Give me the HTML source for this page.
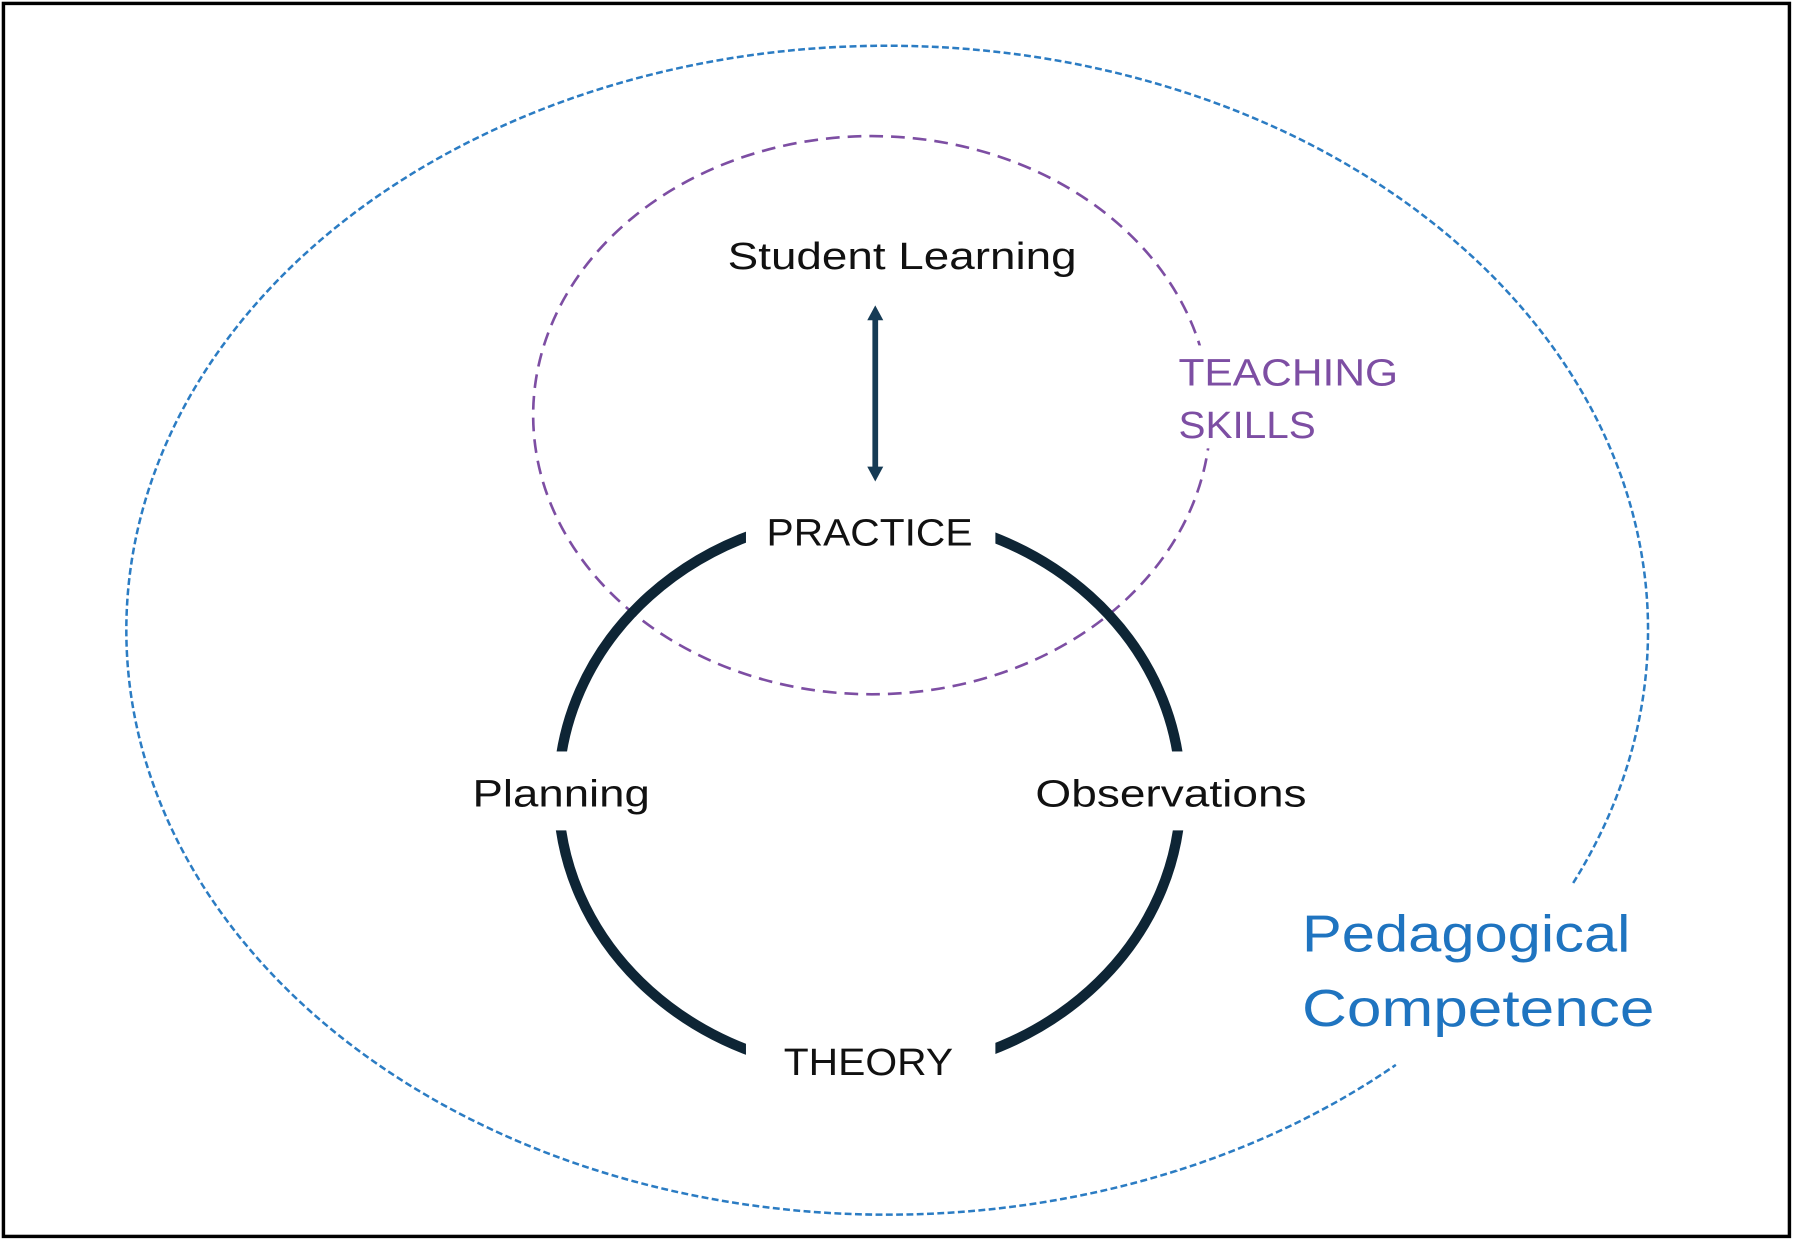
<!DOCTYPE html>
<html><head><meta charset="utf-8"><style>
html,body{margin:0;padding:0;background:#fff;}
svg{display:block;}
text{font-family:"Liberation Sans",sans-serif;}
</style></head><body>
<svg width="1794" height="1241" viewBox="0 0 1568 1085" preserveAspectRatio="none" xmlns="http://www.w3.org/2000/svg">
<rect x="0" y="0" width="1568" height="1085" fill="#fff"/>
<rect x="3" y="3" width="1561" height="1078" fill="none" stroke="#000" stroke-width="3"/>
<path d="M 1375 772 A 665 511 0 1 0 1220 931" fill="none" stroke="#2b7cc3" stroke-width="2.2" stroke-dasharray="6 3"/>
<ellipse cx="762" cy="363" rx="296" ry="244" fill="none" stroke="#7d4ea3" stroke-width="2.3" stroke-dasharray="12 7"/>
<ellipse cx="760" cy="693.5" rx="272" ry="244" fill="none" stroke="#0e2535" stroke-width="9"/>
<rect x="652" y="430" width="218" height="70" fill="#fff"/>
<rect x="652" y="890" width="218" height="70" fill="#fff"/>
<rect x="470" y="657" width="40" height="69" fill="#fff"/>
<rect x="1010" y="657" width="40" height="69" fill="#fff"/>
<rect x="1028" y="302" width="60" height="90" fill="#fff"/>
<line x1="765" y1="278" x2="765" y2="410" stroke="#163b55" stroke-width="5"/>
<polygon points="765,267 758,280 772,280" fill="#163b55"/>
<polygon points="765,421 758,408 772,408" fill="#163b55"/>
<text x="636" y="235" font-size="33" fill="#111" textLength="305" lengthAdjust="spacingAndGlyphs">Student Learning</text>
<text x="670" y="477" font-size="33" fill="#111" textLength="180" lengthAdjust="spacingAndGlyphs">PRACTICE</text>
<text x="413" y="705" font-size="33" fill="#111" textLength="155" lengthAdjust="spacingAndGlyphs">Planning</text>
<text x="905" y="705" font-size="33" fill="#111" textLength="237" lengthAdjust="spacingAndGlyphs">Observations</text>
<text x="685" y="940" font-size="33" fill="#111" textLength="148" lengthAdjust="spacingAndGlyphs">THEORY</text>
<text x="1030" y="337" font-size="33" fill="#7d4ea3" textLength="192" lengthAdjust="spacingAndGlyphs">TEACHING</text>
<text x="1030" y="383" font-size="33" fill="#7d4ea3" textLength="120" lengthAdjust="spacingAndGlyphs">SKILLS</text>
<text x="1138" y="832" font-size="45" fill="#1f74c0" textLength="287" lengthAdjust="spacingAndGlyphs">Pedagogical</text>
<text x="1138" y="897" font-size="45" fill="#1f74c0" textLength="308" lengthAdjust="spacingAndGlyphs">Competence</text>
</svg>
</body></html>
